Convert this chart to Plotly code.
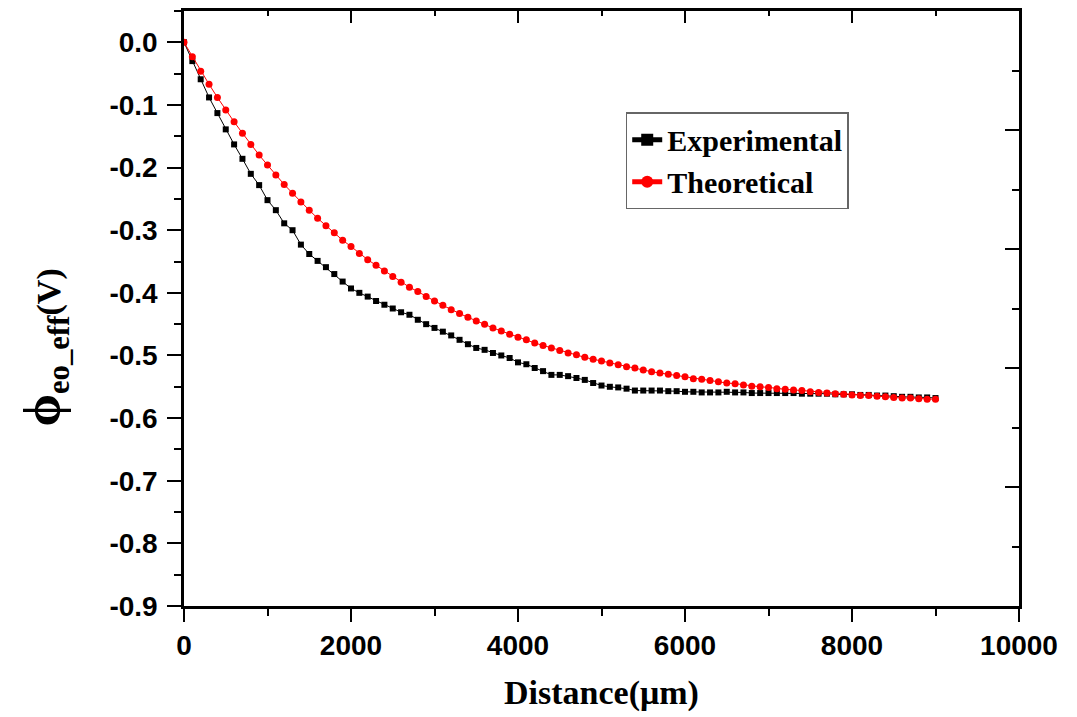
import plotly.graph_objects as go

# ---------------- data ----------------
distance_um = [i * 100 for i in range(91)]

experimental = [
    0.000, -0.030, -0.059, -0.088, -0.113, -0.139, -0.163, -0.186, -0.210, -0.228,
    -0.252, -0.268, -0.289, -0.300, -0.323, -0.338, -0.349, -0.359, -0.370, -0.382,
    -0.393, -0.400, -0.406, -0.413, -0.419, -0.425, -0.431, -0.435, -0.443, -0.450,
    -0.456, -0.462, -0.468, -0.475, -0.482, -0.488, -0.491, -0.496, -0.500, -0.504,
    -0.511, -0.514, -0.520, -0.525, -0.531, -0.531, -0.533, -0.536, -0.539, -0.544,
    -0.548, -0.550, -0.551, -0.553, -0.556, -0.556, -0.556, -0.556, -0.557, -0.557,
    -0.558, -0.558, -0.559, -0.559, -0.559, -0.558, -0.559, -0.559, -0.560, -0.560,
    -0.560, -0.560, -0.560, -0.560, -0.561, -0.561, -0.561, -0.561, -0.562, -0.562,
    -0.562, -0.563, -0.563, -0.564, -0.564, -0.565, -0.566, -0.566, -0.567, -0.567,
    -0.568,
]

theoretical = [
    0.000, -0.023, -0.046, -0.067, -0.088, -0.108, -0.127, -0.145, -0.163, -0.180,
    -0.196, -0.212, -0.227, -0.241, -0.255, -0.268, -0.281, -0.293, -0.304, -0.316,
    -0.326, -0.337, -0.347, -0.356, -0.365, -0.374, -0.383, -0.391, -0.398, -0.406,
    -0.413, -0.420, -0.427, -0.433, -0.439, -0.445, -0.450, -0.456, -0.461, -0.466,
    -0.471, -0.475, -0.480, -0.484, -0.488, -0.492, -0.496, -0.499, -0.503, -0.506,
    -0.509, -0.512, -0.515, -0.518, -0.520, -0.523, -0.526, -0.528, -0.530, -0.532,
    -0.534, -0.537, -0.538, -0.540, -0.542, -0.544, -0.545, -0.547, -0.549, -0.550,
    -0.551, -0.553, -0.554, -0.555, -0.556, -0.558, -0.559, -0.560, -0.561, -0.562,
    -0.563, -0.564, -0.564, -0.565, -0.566, -0.567, -0.568, -0.568, -0.569, -0.570,
    -0.570,
]

x_tick_vals = [0, 2000, 4000, 6000, 8000, 10000]
x_tick_text = ["0", "2000", "4000", "6000", "8000", "10000"]
y_tick_vals = [0.0, -0.1, -0.2, -0.3, -0.4, -0.5, -0.6, -0.7, -0.8, -0.9]
y_tick_text = ["0.0", "-0.1", "-0.2", "-0.3", "-0.4", "-0.5", "-0.6", "-0.7", "-0.8", "-0.9"]
right_tick_vals = [0, 1, 2, 3, 4, 5]

# ---------------- figure ----------------
fig = go.Figure()

fig.add_trace(go.Scatter(
    x=distance_um, y=experimental, name="Experimental", mode="lines+markers",
    line=dict(color="black", width=1),
    marker=dict(symbol="square", size=6, color="black"),
))
fig.add_trace(go.Scatter(
    x=distance_um, y=theoretical, name="Theoretical", mode="lines+markers",
    line=dict(color="#ff0000", width=1),
    marker=dict(symbol="circle", size=7, color="#ff0000"),
))
# empty trace to attach the mirror (top/right) axes
fig.add_trace(go.Scatter(x=[], y=[], xaxis="x2", yaxis="y2",
                         showlegend=False, hoverinfo="skip"))

tick_font = dict(family="Liberation Sans, Arial, sans-serif", size=28,
                 color="black", weight="bold")
serif = "Liberation Serif, Times New Roman, serif"

# the page adds an 8px body margin, so the figure is 8px smaller
fig.update_layout(
    width=1069, height=709,
    margin=dict(l=176, r=58, t=3, b=111),
    paper_bgcolor="white", plot_bgcolor="white",
    showlegend=True,
    legend=dict(
        x=0.529, y=0.83, xanchor="left", yanchor="top",
        bgcolor="white", bordercolor="#666666", borderwidth=1.5,
        font=dict(family=serif, size=30, color="black", weight="bold"),
        tracegroupgap=0, itemsizing="constant",
    ),
    xaxis=dict(
        range=[0, 10000], showgrid=False, zeroline=False,
        showline=True, linecolor="black", linewidth=2.5,
        tickmode="array", tickvals=x_tick_vals, ticktext=x_tick_text,
        ticks="outside", ticklen=13, tickwidth=2, tickcolor="black",
        ticklabelstandoff=0,
        tickfont=tick_font,
        minor=dict(tickmode="linear", tick0=0, dtick=1000, ticks="outside",
                   ticklen=7, tickwidth=2, tickcolor="black", showgrid=False),
    ),
    yaxis=dict(
        range=[-0.9, 0.05], showgrid=False, zeroline=False,
        showline=True, linecolor="black", linewidth=2.5,
        tickmode="array", tickvals=y_tick_vals, ticktext=y_tick_text,
        ticks="outside", ticklen=14, tickwidth=2, tickcolor="black",
        ticklabelstandoff=4,
        tickfont=tick_font,
        minor=dict(tickmode="linear", tick0=0, dtick=0.05, ticks="outside",
                   ticklen=7, tickwidth=2, tickcolor="black", showgrid=False),
    ),
    xaxis2=dict(
        overlaying="x", side="top", anchor="y2", range=[0, 10000],
        showgrid=False, zeroline=False, showline=True, linecolor="black",
        linewidth=2.5, tickmode="array", tickvals=x_tick_vals,
        ticks="inside", ticklen=12, tickwidth=2, tickcolor="black",
        showticklabels=False,
        minor=dict(tickmode="linear", tick0=0, dtick=1000, ticks="inside",
                   ticklen=5, tickwidth=2, tickcolor="black", showgrid=False),
    ),
    yaxis2=dict(
        overlaying="y", side="right", anchor="x2", range=[0, 5],
        showgrid=False, zeroline=False, showline=True, linecolor="black",
        linewidth=2.5, tickmode="array", tickvals=right_tick_vals,
        ticks="inside", ticklen=14, tickwidth=2, tickcolor="black",
        showticklabels=False,
        minor=dict(tickmode="linear", tick0=0, dtick=0.5, ticks="inside",
                   ticklen=7, tickwidth=2, tickcolor="black", showgrid=False),
    ),
    annotations=[
        dict(text="Distance(μm)", xref="paper", yref="paper",
             x=0.5, y=-0.146, xanchor="center", yanchor="middle",
             showarrow=False,
             font=dict(family=serif, size=34, color="black", weight="bold")),
        dict(text="<span style='font-size:52px'>ϕ</span><sub>eo_eff</sub>"
                  "<span style='font-size:34px'>(V)</span>",
             xref="paper", yref="paper",
             x=-0.166, y=0.435, xanchor="center", yanchor="middle",
             textangle=-90, showarrow=False,
             font=dict(family=serif, size=44, color="black", weight="bold")),
    ],
)

fig.write_html("out.html")
